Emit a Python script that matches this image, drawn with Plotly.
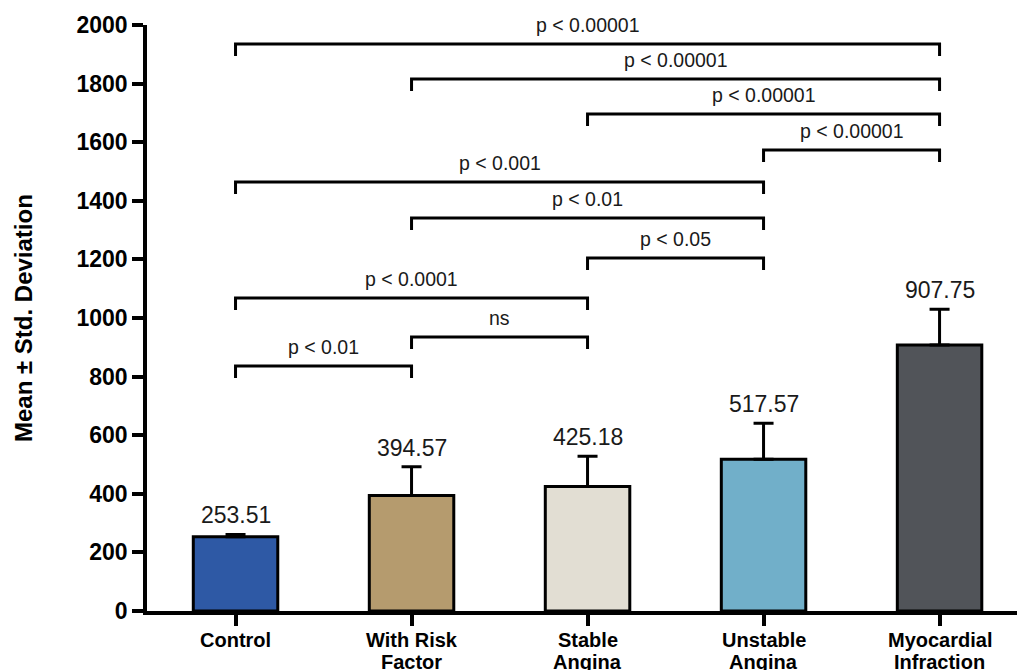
import plotly.graph_objects as go

# Group summary statistics
categories = ["Control", "With Risk<br>Factor", "Stable<br>Angina", "Unstable<br>Angina", "Myocardial<br>Infraction"]
means = [253.51, 394.57, 425.18, 517.57, 907.75]
std_devs = [8, 98, 103, 123, 122]
bar_colors = ["#2E59A5", "#B59B6E", "#E2DED3", "#71AFC9", "#515459"]

# Pairwise comparisons: (group a, group b, label)
comparisons = [
    (0, 4, "p < 0.00001"),
    (1, 4, "p < 0.00001"),
    (2, 4, "p < 0.00001"),
    (3, 4, "p < 0.00001"),
    (0, 3, "p < 0.001"),
    (1, 3, "p < 0.01"),
    (2, 3, "p < 0.05"),
    (0, 2, "p < 0.0001"),
    (1, 2, "ns"),
    (0, 1, "p < 0.01"),
]
bracket_heights = [1935, 1816, 1696, 1573, 1464, 1341, 1205, 1068, 935, 836]

FONT = "Arial, Liberation Sans, sans-serif"
x = list(range(len(categories)))

fig = go.Figure()
fig.add_trace(go.Bar(
    x=x,
    y=means,
    width=0.48,
    marker=dict(color=bar_colors, line=dict(color="black", width=3)),
    error_y=dict(type="data", symmetric=False, array=std_devs,
                 arrayminus=[0] * len(std_devs),
                 color="black", thickness=3, width=10),
    showlegend=False,
))

# Value labels above the error bars
for xi, m, s in zip(x, means, std_devs):
    fig.add_annotation(x=xi, y=m + s, text=f"{m:.2f}", showarrow=False,
                       yanchor="middle", yshift=19,
                       font=dict(family=FONT, size=23, color="#1a1a1a"))

# Significance brackets
drop = 41
for (a, b, label), h in zip(comparisons, bracket_heights):
    fig.add_shape(type="path",
                  path=f"M {a},{h - drop} L {a},{h} L {b},{h} L {b},{h - drop}",
                  line=dict(color="black", width=3), xref="x", yref="y")
    fig.add_annotation(x=(a + b) / 2, y=h, text=label, showarrow=False,
                       yanchor="middle", yshift=19,
                       font=dict(family=FONT, size=19.5, color="#1a1a1a"))

# Category labels under the axis, one annotation per line (tight line spacing)
for xi, cat in zip(x, categories):
    for k, line in enumerate(cat.split("<br>")):
        fig.add_annotation(xref="x", yref="paper", x=xi, y=0, text=f"<b>{line}</b>",
                           showarrow=False, xanchor="center", yanchor="middle",
                           yshift=-29 - 22 * k,
                           font=dict(family=FONT, size=20, color="black"))

# Y axis title
fig.add_annotation(xref="paper", yref="paper", x=-0.1425, y=0.5,
                   text="<b>Mean ± Std. Deviation</b>", textangle=-90,
                   showarrow=False, xanchor="center", yanchor="middle",
                   font=dict(family=FONT, size=24, color="black"))

fig.update_layout(
    width=1017, height=670,
    margin=dict(l=147, r=0, t=24.5, b=59),
    paper_bgcolor="white", plot_bgcolor="white",
    font=dict(family=FONT, color="black"),
)
fig.update_xaxes(
    range=[-0.503, 4.44],
    tickvals=x, showticklabels=False,
    showline=True, linecolor="black", linewidth=3.5,
    ticks="outside", ticklen=11, tickwidth=3.5, tickcolor="black",
    showgrid=False, zeroline=False, automargin=False,
)
fig.update_yaxes(
    range=[0, 2000],
    tickvals=list(range(0, 2001, 200)),
    tickfont=dict(family=FONT, size=23, color="black", weight="bold"),
    showline=True, linecolor="black", linewidth=3.5,
    ticks="outside", ticklen=11, tickwidth=3.5, tickcolor="black",
    showgrid=False, zeroline=False, automargin=False,
)

fig.write_html("out.html")
